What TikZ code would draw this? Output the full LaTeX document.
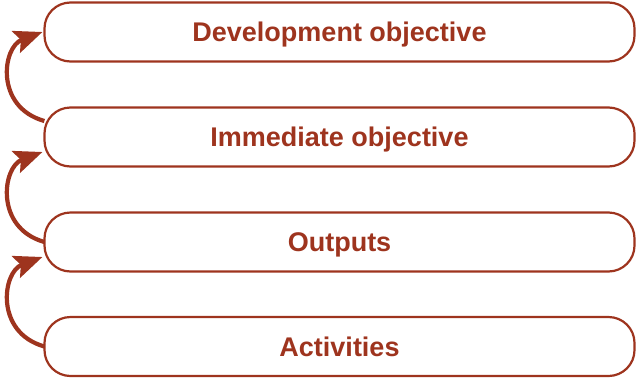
\documentclass[tikz,border=0pt]{standalone}
\usepackage{fontspec}
\setmainfont{Liberation Sans}
\usetikzlibrary{arrows.meta}
\definecolor{rust}{RGB}{158,52,30}
\begin{document}
\begin{tikzpicture}[x=1pt,y=-1pt,
  lvl/.style={draw=rust,line width=2.2pt,rounded corners=26pt,minimum width=590pt,minimum height=59pt,inner sep=0pt,
     text=rust,font=\fontsize{27}{30}\selectfont\bfseries,text depth=0pt,text height=19pt},
  up/.style={draw=rust,line width=4.2pt,-{Stealth[length=28pt,width=23pt,inset=5pt]}}]
\useasboundingbox (0,0) rectangle (637,378);
\node[lvl] (b1) at (339.5,32) {Development objective};
\node[lvl] (b2) at (339.5,137) {Immediate objective};
\node[lvl] (b3) at (339.5,242) {Outputs};
\node[lvl] (b4) at (339.5,346.5) {Activities};
\coordinate (t1) at ([shift={(1pt,16pt)}]b2.west);
\coordinate (h1) at ([xshift=-1pt]b1.west);
\coordinate (t2) at ([xshift=1pt]b3.west);
\coordinate (h2) at ([shift={(-1pt,-15pt)}]b2.west);
\coordinate (t3) at ([xshift=1pt]b4.west);
\coordinate (h3) at ([shift={(-1pt,-15pt)}]b3.west);
\draw[up] (t1) .. controls +(-50,-14) and +(-40,15) .. (h1);
\draw[up] (t2) .. controls +(-50,-14) and +(-40,15) .. (h2);
\draw[up] (t3) .. controls +(-50,-14) and +(-40,15) .. (h3);
\end{tikzpicture}
\end{document}
